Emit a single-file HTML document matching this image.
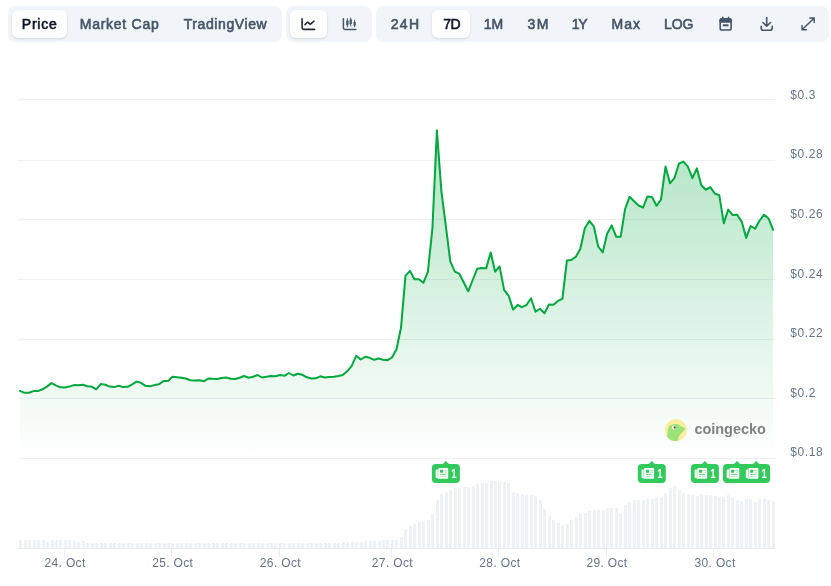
<!DOCTYPE html>
<html><head><meta charset="utf-8"><title>Chart</title>
<style>
html,body{margin:0;padding:0;background:#fff;}
body{width:831px;height:586px;position:relative;overflow:hidden;font-family:"Liberation Sans",sans-serif;}
.grp{position:absolute;top:6px;height:36px;background:#f1f5f9;border-radius:8px;}
.pill{position:absolute;top:10px;height:28px;background:#fff;border-radius:6px;box-shadow:0 1px 3px 0 rgba(0,0,0,.1),0 1px 2px -1px rgba(0,0,0,.1);}
.t{position:absolute;top:10px;height:28px;line-height:28px;font-size:14px;font-weight:400;-webkit-text-stroke:0.6px currentColor;color:#475569;white-space:nowrap;}
.t.a{color:#0f172a;}
svg{position:absolute;left:0;top:0;}
svg text{font-family:"Liberation Sans",sans-serif;}
</style></head><body>
<div class="grp" style="left:8px;width:274px"></div>
<div class="grp" style="left:286px;width:86px"></div>
<div class="grp" style="left:376px;width:453px"></div>
<div class="pill" style="left:12px;width:55px"></div>
<div class="pill" style="left:290px;width:37px"></div>
<div class="pill" style="left:432px;width:38px"></div>
<div class="t a" style="left:21.8px;letter-spacing:0.75px">Price</div>
<div class="t" style="left:79.8px;letter-spacing:0.73px">Market Cap</div>
<div class="t" style="left:183.7px;letter-spacing:0.6px">TradingView</div>
<div class="t" style="left:390.7px;letter-spacing:1.35px">24H</div>
<div class="t a" style="left:443.3px;letter-spacing:-0.5px">7D</div>
<div class="t" style="left:483.8px;letter-spacing:-0.2px">1M</div>
<div class="t" style="left:527.4px;letter-spacing:1.6px">3M</div>
<div class="t" style="left:571.8px;letter-spacing:-1.4px">1Y</div>
<div class="t" style="left:611.5px;letter-spacing:1.0px">Max</div>
<div class="t" style="left:663.9px;letter-spacing:-0.05px">LOG</div>
<svg width="831" height="586" viewBox="0 0 831 586">
<defs><linearGradient id="ag" gradientUnits="userSpaceOnUse" x1="0" y1="129.5" x2="0" y2="458.5"><stop offset="0" stop-color="#00a83e" stop-opacity=".31"/><stop offset="1" stop-color="#00a83e" stop-opacity="0"/></linearGradient></defs>
<!-- toolbar icons -->
<g transform="translate(0,.4)" fill="none" stroke="#1e293b" stroke-width="1.6" stroke-linecap="round" stroke-linejoin="round">
<path d="M302.1 18.3V27.4a1.6 1.6 0 0 0 1.6 1.6H314.6"/><path d="M305 24.2L307.7 21.6L310.2 23.9L314 20.8"/>
</g>
<g transform="translate(0,.4)" fill="none" stroke="#475569" stroke-width="1.5" stroke-linecap="round" stroke-linejoin="round">
<path d="M343.4 18.3V27.4a1.6 1.6 0 0 0 1.6 1.6H355.8"/>
<path d="M347.4 18.2V26.4M350.7 17.6V25.6M354.6 19.7V26.4" stroke-width="1"/>
<path d="M347.4 20V24.8M350.7 19.2V23.6M354.6 21.6V25" stroke-width="2.3" stroke-linecap="butt"/>
</g>
<g fill="none" stroke="#475569" stroke-width="1.6" stroke-linecap="round" stroke-linejoin="round">
<rect x="720.2" y="18.9" width="10.9" height="11.1" rx="1.8"/><path d="M720.2 22V20.7a1.8 1.8 0 0 1 1.8 -1.8H729.3a1.8 1.8 0 0 1 1.8 1.8V22Z" fill="#475569"/><path d="M722.8 17.2V18.8M728.5 17.2V18.8"/><path d="M722.8 25.3H728.5" stroke-width="2" stroke-linecap="butt"/>
<path d="M766.7 17.6V26M762.9 22.5L766.7 26.2L770.5 22.5"/><path d="M761.2 26.3V28.2a2 2 0 0 0 2 2H770.2a2 2 0 0 0 2 -2V26.3"/>
<path d="M802 29.8L814.2 18M809.8 18H814.2V22.4M802 25.4V29.8H806.4" stroke-width="1.45"/>
</g>
<!-- grid -->
<g fill="#eef1f5"><rect x="18" y="99.0" width="757" height="1"/><rect x="18" y="160.0" width="757" height="1"/><rect x="18" y="219.0" width="757" height="1"/><rect x="18" y="279.0" width="757" height="1"/><rect x="18" y="339.0" width="757" height="1"/><rect x="18" y="398.0" width="757" height="1"/><rect x="18" y="458.0" width="757" height="1"/></g>
<g fill="#eef1f5"><rect x="19" y="540" width="3" height="8"/><rect x="24" y="540" width="3" height="8"/><rect x="28" y="540" width="3" height="8"/><rect x="33" y="540" width="3" height="8"/><rect x="37" y="540" width="3" height="8"/><rect x="42" y="540" width="3" height="8"/><rect x="46" y="542" width="3" height="6"/><rect x="51" y="540" width="3" height="8"/><rect x="55" y="540" width="3" height="8"/><rect x="59" y="540" width="3" height="8"/><rect x="64" y="540" width="3" height="8"/><rect x="68" y="540" width="3" height="8"/><rect x="73" y="541" width="3" height="7"/><rect x="77" y="542" width="3" height="6"/><rect x="82" y="541" width="3" height="7"/><rect x="86" y="543" width="3" height="5"/><rect x="91" y="543" width="3" height="5"/><rect x="95" y="543" width="3" height="5"/><rect x="100" y="543" width="3" height="5"/><rect x="104" y="543" width="3" height="5"/><rect x="109" y="543" width="3" height="5"/><rect x="113" y="543" width="3" height="5"/><rect x="118" y="543" width="3" height="5"/><rect x="122" y="543" width="3" height="5"/><rect x="127" y="543" width="3" height="5"/><rect x="131" y="543" width="3" height="5"/><rect x="136" y="543" width="3" height="5"/><rect x="140" y="543" width="3" height="5"/><rect x="145" y="543" width="3" height="5"/><rect x="149" y="543" width="3" height="5"/><rect x="154" y="543" width="3" height="5"/><rect x="158" y="543" width="3" height="5"/><rect x="163" y="543" width="3" height="5"/><rect x="167" y="543" width="3" height="5"/><rect x="171" y="543" width="3" height="5"/><rect x="176" y="543" width="3" height="5"/><rect x="180" y="543" width="3" height="5"/><rect x="185" y="543" width="3" height="5"/><rect x="189" y="543" width="3" height="5"/><rect x="194" y="543" width="3" height="5"/><rect x="198" y="543" width="3" height="5"/><rect x="203" y="543" width="3" height="5"/><rect x="207" y="543" width="3" height="5"/><rect x="212" y="543" width="3" height="5"/><rect x="216" y="543" width="3" height="5"/><rect x="221" y="543" width="3" height="5"/><rect x="225" y="543" width="3" height="5"/><rect x="230" y="543" width="3" height="5"/><rect x="234" y="543" width="3" height="5"/><rect x="239" y="543" width="3" height="5"/><rect x="243" y="543" width="3" height="5"/><rect x="248" y="543" width="3" height="5"/><rect x="252" y="543" width="3" height="5"/><rect x="257" y="543" width="3" height="5"/><rect x="261" y="543" width="3" height="5"/><rect x="266" y="543" width="3" height="5"/><rect x="270" y="543" width="3" height="5"/><rect x="274" y="543" width="3" height="5"/><rect x="279" y="543" width="3" height="5"/><rect x="283" y="543" width="3" height="5"/><rect x="288" y="543" width="3" height="5"/><rect x="292" y="543" width="3" height="5"/><rect x="297" y="543" width="3" height="5"/><rect x="301" y="543" width="3" height="5"/><rect x="306" y="543" width="3" height="5"/><rect x="310" y="543" width="3" height="5"/><rect x="315" y="543" width="3" height="5"/><rect x="319" y="543" width="3" height="5"/><rect x="324" y="543" width="3" height="5"/><rect x="328" y="543" width="3" height="5"/><rect x="333" y="543" width="3" height="5"/><rect x="337" y="543" width="3" height="5"/><rect x="342" y="542" width="3" height="6"/><rect x="346" y="542" width="3" height="6"/><rect x="351" y="542" width="3" height="6"/><rect x="355" y="542" width="3" height="6"/><rect x="360" y="542" width="3" height="6"/><rect x="364" y="541" width="3" height="7"/><rect x="369" y="541" width="3" height="7"/><rect x="373" y="541" width="3" height="7"/><rect x="378" y="541" width="3" height="7"/><rect x="382" y="540" width="3" height="8"/><rect x="386" y="540" width="3" height="8"/><rect x="391" y="540" width="3" height="8"/><rect x="395" y="540" width="3" height="8"/><rect x="400" y="537" width="3" height="11"/><rect x="404" y="529" width="3" height="19"/><rect x="409" y="526" width="3" height="22"/><rect x="413" y="524" width="3" height="24"/><rect x="418" y="522" width="3" height="26"/><rect x="422" y="521" width="3" height="27"/><rect x="427" y="520" width="3" height="28"/><rect x="431" y="514" width="3" height="34"/><rect x="436" y="500" width="3" height="48"/><rect x="440" y="494" width="3" height="54"/><rect x="445" y="492" width="3" height="56"/><rect x="449" y="490" width="3" height="58"/><rect x="454" y="488" width="3" height="60"/><rect x="458" y="488" width="3" height="60"/><rect x="463" y="487" width="3" height="61"/><rect x="467" y="487" width="3" height="61"/><rect x="472" y="486" width="3" height="62"/><rect x="476" y="484" width="3" height="64"/><rect x="481" y="483" width="3" height="65"/><rect x="485" y="483" width="3" height="65"/><rect x="490" y="481" width="3" height="67"/><rect x="494" y="481" width="3" height="67"/><rect x="498" y="481" width="3" height="67"/><rect x="503" y="482" width="3" height="66"/><rect x="507" y="483" width="3" height="65"/><rect x="512" y="492" width="3" height="56"/><rect x="516" y="493" width="3" height="55"/><rect x="521" y="494" width="3" height="54"/><rect x="525" y="495" width="3" height="53"/><rect x="530" y="495" width="3" height="53"/><rect x="534" y="496" width="3" height="52"/><rect x="539" y="500" width="3" height="48"/><rect x="543" y="509" width="3" height="39"/><rect x="548" y="516" width="3" height="32"/><rect x="552" y="520" width="3" height="28"/><rect x="557" y="523" width="3" height="25"/><rect x="561" y="525" width="3" height="23"/><rect x="566" y="524" width="3" height="24"/><rect x="570" y="520" width="3" height="28"/><rect x="575" y="517" width="3" height="31"/><rect x="579" y="514" width="3" height="34"/><rect x="584" y="513" width="3" height="35"/><rect x="588" y="511" width="3" height="37"/><rect x="593" y="510" width="3" height="38"/><rect x="597" y="510" width="3" height="38"/><rect x="602" y="510" width="3" height="38"/><rect x="606" y="508" width="3" height="40"/><rect x="610" y="508" width="3" height="40"/><rect x="615" y="508" width="3" height="40"/><rect x="619" y="514" width="3" height="34"/><rect x="624" y="505" width="3" height="43"/><rect x="628" y="502" width="3" height="46"/><rect x="633" y="500" width="3" height="48"/><rect x="637" y="500" width="3" height="48"/><rect x="642" y="500" width="3" height="48"/><rect x="646" y="499" width="3" height="49"/><rect x="651" y="499" width="3" height="49"/><rect x="655" y="498" width="3" height="50"/><rect x="660" y="497" width="3" height="51"/><rect x="664" y="493" width="3" height="55"/><rect x="669" y="488" width="3" height="60"/><rect x="673" y="486" width="3" height="62"/><rect x="678" y="490" width="3" height="58"/><rect x="682" y="493" width="3" height="55"/><rect x="687" y="494" width="3" height="54"/><rect x="691" y="495" width="3" height="53"/><rect x="696" y="496" width="3" height="52"/><rect x="700" y="494" width="3" height="54"/><rect x="705" y="495" width="3" height="53"/><rect x="709" y="495" width="3" height="53"/><rect x="714" y="496" width="3" height="52"/><rect x="718" y="497" width="3" height="51"/><rect x="722" y="497" width="3" height="51"/><rect x="727" y="495" width="3" height="53"/><rect x="731" y="498" width="3" height="50"/><rect x="736" y="500" width="3" height="48"/><rect x="740" y="501" width="3" height="47"/><rect x="745" y="499" width="3" height="49"/><rect x="749" y="499" width="3" height="49"/><rect x="754" y="502" width="3" height="46"/><rect x="758" y="499" width="3" height="49"/><rect x="763" y="499" width="3" height="49"/><rect x="767" y="500" width="3" height="48"/><rect x="772" y="501" width="3" height="47"/></g>
<rect x="18" y="548" width="757" height="1" fill="#e8ecf1"/>
<g fill="#e6eaf0"><rect x="64.2" y="549" width="1" height="8"/><rect x="171.0" y="549" width="1" height="8"/><rect x="278.9" y="549" width="1" height="8"/><rect x="390.9" y="549" width="1" height="8"/><rect x="497.8" y="549" width="1" height="8"/><rect x="606.0" y="549" width="1" height="8"/><rect x="713.2" y="549" width="1" height="8"/></g>
<path d="M20.0 390.8 L24.5 392.8 L29.0 392.8 L33.4 391.1 L37.9 391.1 L42.4 389.3 L46.9 386.6 L51.4 383.1 L55.9 385.3 L60.3 387.3 L64.8 387.6 L69.3 386.6 L73.8 385.1 L78.3 385.3 L82.8 384.8 L87.2 386.3 L91.7 386.6 L96.2 389.3 L100.7 384.1 L105.2 384.8 L109.7 386.6 L114.1 387.1 L118.6 385.8 L123.1 387.1 L127.6 386.8 L132.1 384.3 L136.5 381.6 L141.0 382.8 L145.5 385.8 L150.0 386.3 L154.5 385.1 L159.0 384.3 L163.4 381.1 L167.9 381.1 L172.4 376.8 L176.9 377.3 L181.4 377.8 L185.9 378.5 L190.3 380.3 L194.8 380.6 L199.3 380.3 L203.8 381.3 L208.3 378.5 L212.7 378.8 L217.2 379.0 L221.7 378.0 L226.2 377.5 L230.7 378.8 L235.2 379.0 L239.6 377.8 L244.1 376.0 L248.6 377.8 L253.1 376.8 L257.6 375.0 L262.1 377.5 L266.5 376.8 L271.0 376.0 L275.5 376.3 L280.0 375.0 L284.5 375.8 L288.9 373.0 L293.4 375.5 L297.9 373.8 L302.4 374.8 L306.9 377.3 L311.4 378.5 L315.8 378.3 L320.3 376.3 L324.8 377.5 L329.3 377.0 L333.8 376.8 L338.3 376.0 L342.7 375.0 L347.2 371.3 L351.7 365.8 L356.2 355.8 L360.7 359.5 L365.2 356.8 L369.6 357.8 L374.1 359.8 L378.6 358.5 L383.1 359.7 L387.6 360.2 L392.0 357.5 L396.5 349.3 L401.0 327.8 L405.5 275.6 L410.0 270.9 L414.5 279.3 L418.9 279.3 L423.4 282.8 L427.9 271.7 L432.4 228.5 L436.9 130.4 L441.4 191.5 L445.8 225.6 L450.3 261.4 L454.8 271.7 L459.3 273.7 L463.8 282.5 L468.2 291.3 L472.7 280.0 L477.2 268.8 L481.7 268.1 L486.2 268.3 L490.7 252.4 L495.1 271.7 L499.6 266.4 L504.1 290.0 L508.6 295.6 L513.1 309.6 L517.6 305.0 L522.0 307.2 L526.5 305.0 L531.0 298.2 L535.5 311.8 L540.0 308.7 L544.5 313.3 L548.9 304.6 L553.4 304.8 L557.9 300.9 L562.4 298.8 L566.9 260.6 L571.3 259.9 L575.8 256.9 L580.3 249.0 L584.8 228.2 L589.3 220.9 L593.8 226.3 L598.2 246.5 L602.7 252.4 L607.2 233.6 L611.7 225.4 L616.2 236.7 L620.7 236.7 L625.1 208.9 L629.6 196.8 L634.1 201.2 L638.6 205.5 L643.1 207.5 L647.5 196.4 L652.0 196.9 L656.5 205.8 L661.0 199.5 L665.5 166.6 L670.0 183.3 L674.4 178.2 L678.9 163.7 L683.4 161.6 L687.9 166.6 L692.4 178.2 L696.9 168.4 L701.3 185.3 L705.8 189.8 L710.3 187.1 L714.8 193.5 L719.3 195.3 L723.8 223.3 L728.2 209.6 L732.7 215.1 L737.2 214.7 L741.7 221.6 L746.2 237.9 L750.6 226.0 L755.1 228.7 L759.6 220.5 L764.1 214.7 L768.6 218.5 L773.1 229.8 L773.1 458.5 L20.0 458.5 Z" fill="url(#ag)"/>
<path d="M20.0 390.8 L24.5 392.8 L29.0 392.8 L33.4 391.1 L37.9 391.1 L42.4 389.3 L46.9 386.6 L51.4 383.1 L55.9 385.3 L60.3 387.3 L64.8 387.6 L69.3 386.6 L73.8 385.1 L78.3 385.3 L82.8 384.8 L87.2 386.3 L91.7 386.6 L96.2 389.3 L100.7 384.1 L105.2 384.8 L109.7 386.6 L114.1 387.1 L118.6 385.8 L123.1 387.1 L127.6 386.8 L132.1 384.3 L136.5 381.6 L141.0 382.8 L145.5 385.8 L150.0 386.3 L154.5 385.1 L159.0 384.3 L163.4 381.1 L167.9 381.1 L172.4 376.8 L176.9 377.3 L181.4 377.8 L185.9 378.5 L190.3 380.3 L194.8 380.6 L199.3 380.3 L203.8 381.3 L208.3 378.5 L212.7 378.8 L217.2 379.0 L221.7 378.0 L226.2 377.5 L230.7 378.8 L235.2 379.0 L239.6 377.8 L244.1 376.0 L248.6 377.8 L253.1 376.8 L257.6 375.0 L262.1 377.5 L266.5 376.8 L271.0 376.0 L275.5 376.3 L280.0 375.0 L284.5 375.8 L288.9 373.0 L293.4 375.5 L297.9 373.8 L302.4 374.8 L306.9 377.3 L311.4 378.5 L315.8 378.3 L320.3 376.3 L324.8 377.5 L329.3 377.0 L333.8 376.8 L338.3 376.0 L342.7 375.0 L347.2 371.3 L351.7 365.8 L356.2 355.8 L360.7 359.5 L365.2 356.8 L369.6 357.8 L374.1 359.8 L378.6 358.5 L383.1 359.7 L387.6 360.2 L392.0 357.5 L396.5 349.3 L401.0 327.8 L405.5 275.6 L410.0 270.9 L414.5 279.3 L418.9 279.3 L423.4 282.8 L427.9 271.7 L432.4 228.5 L436.9 130.4 L441.4 191.5 L445.8 225.6 L450.3 261.4 L454.8 271.7 L459.3 273.7 L463.8 282.5 L468.2 291.3 L472.7 280.0 L477.2 268.8 L481.7 268.1 L486.2 268.3 L490.7 252.4 L495.1 271.7 L499.6 266.4 L504.1 290.0 L508.6 295.6 L513.1 309.6 L517.6 305.0 L522.0 307.2 L526.5 305.0 L531.0 298.2 L535.5 311.8 L540.0 308.7 L544.5 313.3 L548.9 304.6 L553.4 304.8 L557.9 300.9 L562.4 298.8 L566.9 260.6 L571.3 259.9 L575.8 256.9 L580.3 249.0 L584.8 228.2 L589.3 220.9 L593.8 226.3 L598.2 246.5 L602.7 252.4 L607.2 233.6 L611.7 225.4 L616.2 236.7 L620.7 236.7 L625.1 208.9 L629.6 196.8 L634.1 201.2 L638.6 205.5 L643.1 207.5 L647.5 196.4 L652.0 196.9 L656.5 205.8 L661.0 199.5 L665.5 166.6 L670.0 183.3 L674.4 178.2 L678.9 163.7 L683.4 161.6 L687.9 166.6 L692.4 178.2 L696.9 168.4 L701.3 185.3 L705.8 189.8 L710.3 187.1 L714.8 193.5 L719.3 195.3 L723.8 223.3 L728.2 209.6 L732.7 215.1 L737.2 214.7 L741.7 221.6 L746.2 237.9 L750.6 226.0 L755.1 228.7 L759.6 220.5 L764.1 214.7 L768.6 218.5 L773.1 229.8" fill="none" stroke="#00a83e" stroke-width="2" stroke-linejoin="round" stroke-linecap="round"/>
<g font-size="12" fill="#64748b"><text x="790.3" y="98.6" letter-spacing=".6">$0.3</text><text x="790.3" y="158.2" letter-spacing=".6">$0.28</text><text x="790.3" y="217.9" letter-spacing=".6">$0.26</text><text x="790.3" y="277.5" letter-spacing=".6">$0.24</text><text x="790.3" y="337.1" letter-spacing=".6">$0.22</text><text x="790.3" y="396.8" letter-spacing=".6">$0.2</text><text x="790.3" y="456.4" letter-spacing=".6">$0.18</text><text x="65.1" y="566.5" text-anchor="middle" letter-spacing=".35">24. Oct</text><text x="172.7" y="566.5" text-anchor="middle" letter-spacing=".35">25. Oct</text><text x="280.4" y="566.5" text-anchor="middle" letter-spacing=".35">26. Oct</text><text x="392.4" y="566.5" text-anchor="middle" letter-spacing=".35">27. Oct</text><text x="499.9" y="566.5" text-anchor="middle" letter-spacing=".35">28. Oct</text><text x="607.0" y="566.5" text-anchor="middle" letter-spacing=".35">29. Oct</text><text x="715.1" y="566.5" text-anchor="middle" letter-spacing=".35">30. Oct</text></g>
<!-- watermark -->
<circle cx="675.9" cy="430.1" r="11" fill="#fbeda0"/>
<path d="M666.9 436.2C667.4 434.8 667.5 433.4 667.7 431.9C667.8 430.6 667.8 429.4 668.2 428.3C668.5 427.3 668.9 426.4 669.5 425.8C670.2 425.1 670.9 424.7 671.8 424.5C673 424.2 674.2 424 675.4 424C676.3 424 677.2 424 677.9 424.2C678.9 424.6 679.6 425.5 680.5 426C681.3 426.4 682.2 426.6 683 427C683.7 427.3 684.3 427.6 684.6 428.1C684.9 428.5 685 428.9 684.8 429.3C684.6 429.9 684.1 430.4 683.6 430.9C682.9 431.6 682.2 432.2 681.5 432.9C680.7 433.7 680 434.5 679.5 435.5C679 436.3 678.5 437.1 678.2 438C677.9 439 677.9 440 677.9 440.9A11 11 0 0 1 666.9 436.2Z" fill="#9be376"/>
<circle cx="673.9" cy="427.5" r="1.9" fill="#fff"/><circle cx="674.7" cy="427.5" r="1.15" fill="#5a5a5a"/>
<text x="694.4" y="434" font-size="14.5" font-weight="700" fill="#7f8283" letter-spacing="-.02">coingecko</text>
<g transform="translate(431.9,464)"><path d="M4 0H11L14 -3L17 0H24a4 4 0 0 1 4 4V15a4 4 0 0 1 -4 4H4a4 4 0 0 1 -4 -4V4a4 4 0 0 1 4 -4Z" fill="#32ca5b"/><g fill="#fff"><path d="M3.7 6.2a.8 .8 0 0 1 .8 -.8H6v8.9H5a1.3 1.3 0 0 1 -1.3 -1.3Z" opacity=".93"/><path d="M6.3 5a1 1 0 0 1 1 -1h8a1 1 0 0 1 1 1v8.8a1 1 0 0 1 -1 1H5.2c.7-.2 1.1-.7 1.1-1.4Z"/></g><g fill="#32ca5b"><rect x="8.1" y="5.8" width="3.1" height="2.9" rx=".4"/><rect x="12.6" y="5.9" width="2.2" height=".8" opacity=".6"/><rect x="12.6" y="7.8" width="2.2" height=".8" opacity=".6"/><rect x="8.1" y="10.1" width="6.2" height=".85" opacity=".8"/><rect x="8.1" y="12.2" width="6.2" height=".8" opacity=".4"/></g><text transform="translate(19.4,14.1) scale(.78,1)" font-size="12.4" font-weight="700" fill="#fff">1</text></g><g transform="translate(637.8,464)"><path d="M4 0H11L14 -3L17 0H24a4 4 0 0 1 4 4V15a4 4 0 0 1 -4 4H4a4 4 0 0 1 -4 -4V4a4 4 0 0 1 4 -4Z" fill="#32ca5b"/><g fill="#fff"><path d="M3.7 6.2a.8 .8 0 0 1 .8 -.8H6v8.9H5a1.3 1.3 0 0 1 -1.3 -1.3Z" opacity=".93"/><path d="M6.3 5a1 1 0 0 1 1 -1h8a1 1 0 0 1 1 1v8.8a1 1 0 0 1 -1 1H5.2c.7-.2 1.1-.7 1.1-1.4Z"/></g><g fill="#32ca5b"><rect x="8.1" y="5.8" width="3.1" height="2.9" rx=".4"/><rect x="12.6" y="5.9" width="2.2" height=".8" opacity=".6"/><rect x="12.6" y="7.8" width="2.2" height=".8" opacity=".6"/><rect x="8.1" y="10.1" width="6.2" height=".85" opacity=".8"/><rect x="8.1" y="12.2" width="6.2" height=".8" opacity=".4"/></g><text transform="translate(19.4,14.1) scale(.78,1)" font-size="12.4" font-weight="700" fill="#fff">1</text></g><g transform="translate(690.9,464)"><path d="M4 0H11L14 -3L17 0H24a4 4 0 0 1 4 4V15a4 4 0 0 1 -4 4H4a4 4 0 0 1 -4 -4V4a4 4 0 0 1 4 -4Z" fill="#32ca5b"/><g fill="#fff"><path d="M3.7 6.2a.8 .8 0 0 1 .8 -.8H6v8.9H5a1.3 1.3 0 0 1 -1.3 -1.3Z" opacity=".93"/><path d="M6.3 5a1 1 0 0 1 1 -1h8a1 1 0 0 1 1 1v8.8a1 1 0 0 1 -1 1H5.2c.7-.2 1.1-.7 1.1-1.4Z"/></g><g fill="#32ca5b"><rect x="8.1" y="5.8" width="3.1" height="2.9" rx=".4"/><rect x="12.6" y="5.9" width="2.2" height=".8" opacity=".6"/><rect x="12.6" y="7.8" width="2.2" height=".8" opacity=".6"/><rect x="8.1" y="10.1" width="6.2" height=".85" opacity=".8"/><rect x="8.1" y="12.2" width="6.2" height=".8" opacity=".4"/></g><text transform="translate(19.4,14.1) scale(.78,1)" font-size="12.4" font-weight="700" fill="#fff">1</text></g><g transform="translate(723.0,464)"><path d="M4 0H11L14 -3L17 0H24a4 4 0 0 1 4 4V15a4 4 0 0 1 -4 4H4a4 4 0 0 1 -4 -4V4a4 4 0 0 1 4 -4Z" fill="#32ca5b"/><g fill="#fff"><path d="M3.7 6.2a.8 .8 0 0 1 .8 -.8H6v8.9H5a1.3 1.3 0 0 1 -1.3 -1.3Z" opacity=".93"/><path d="M6.3 5a1 1 0 0 1 1 -1h8a1 1 0 0 1 1 1v8.8a1 1 0 0 1 -1 1H5.2c.7-.2 1.1-.7 1.1-1.4Z"/></g><g fill="#32ca5b"><rect x="8.1" y="5.8" width="3.1" height="2.9" rx=".4"/><rect x="12.6" y="5.9" width="2.2" height=".8" opacity=".6"/><rect x="12.6" y="7.8" width="2.2" height=".8" opacity=".6"/><rect x="8.1" y="10.1" width="6.2" height=".85" opacity=".8"/><rect x="8.1" y="12.2" width="6.2" height=".8" opacity=".4"/></g><text transform="translate(19.4,14.1) scale(.78,1)" font-size="12.4" font-weight="700" fill="#fff">1</text></g><g transform="translate(742.1,464)"><path d="M4 0H11L14 -3L17 0H24a4 4 0 0 1 4 4V15a4 4 0 0 1 -4 4H4a4 4 0 0 1 -4 -4V4a4 4 0 0 1 4 -4Z" fill="#32ca5b"/><g fill="#fff"><path d="M3.7 6.2a.8 .8 0 0 1 .8 -.8H6v8.9H5a1.3 1.3 0 0 1 -1.3 -1.3Z" opacity=".93"/><path d="M6.3 5a1 1 0 0 1 1 -1h8a1 1 0 0 1 1 1v8.8a1 1 0 0 1 -1 1H5.2c.7-.2 1.1-.7 1.1-1.4Z"/></g><g fill="#32ca5b"><rect x="8.1" y="5.8" width="3.1" height="2.9" rx=".4"/><rect x="12.6" y="5.9" width="2.2" height=".8" opacity=".6"/><rect x="12.6" y="7.8" width="2.2" height=".8" opacity=".6"/><rect x="8.1" y="10.1" width="6.2" height=".85" opacity=".8"/><rect x="8.1" y="12.2" width="6.2" height=".8" opacity=".4"/></g><text transform="translate(19.4,14.1) scale(.78,1)" font-size="12.4" font-weight="700" fill="#fff">1</text></g>
</svg>
</body></html>
